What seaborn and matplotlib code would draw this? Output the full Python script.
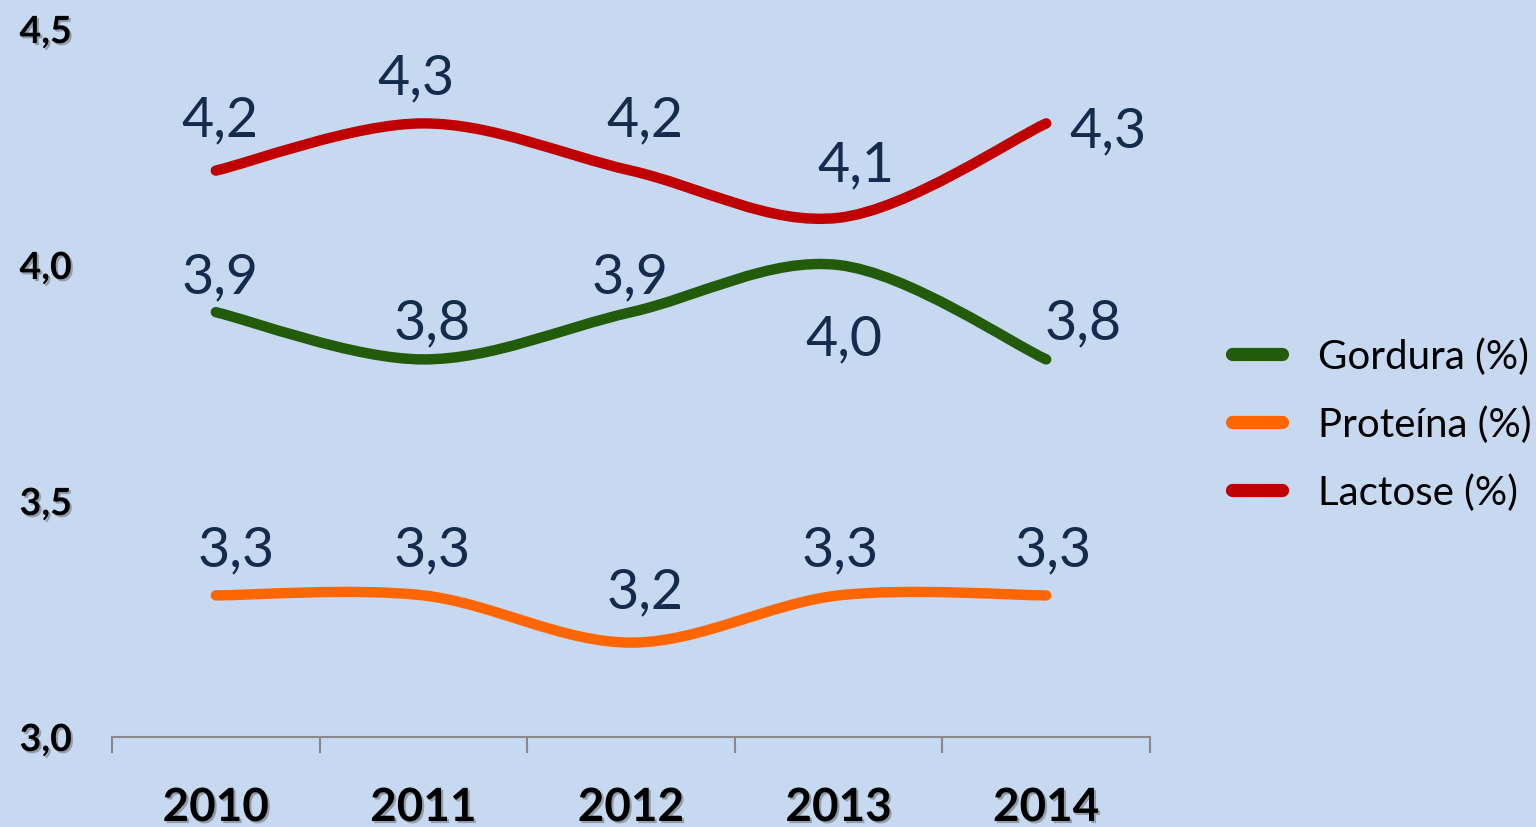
import numpy as np
import pandas as pd
import matplotlib
matplotlib.use("Agg")
import matplotlib.pyplot as plt
import matplotlib.patheffects as pe
from matplotlib.path import Path
from matplotlib.patches import PathPatch
from matplotlib.lines import Line2D
import seaborn as sns

anos = ["2010", "2011", "2012", "2013", "2014"]
series = ["Gordura (%)", "Proteína (%)", "Lactose (%)"]
gordura = [3.9, 3.8, 3.9, 4.0, 3.8]
proteina = [3.3, 3.3, 3.2, 3.3, 3.3]
lactose = [4.2, 4.3, 4.2, 4.1, 4.3]
y_ticks = [3.0, 3.5, 4.0, 4.5]

cores = {"Gordura (%)": "#225B0A", "Proteína (%)": "#FF6600", "Lactose (%)": "#C00000"}

# label offsets (pixels) from each point, per series
offsets = {
    "Gordura (%)": [(4, 20), (9, 21), (-1, 20), (5, -89), (37, 21)],
    "Proteína (%)": [(20, 30), (9, 30), (14, 35), (2, 30), (7, 30)],
    "Lactose (%)": [(4, 35), (-7, 30), (14, 35), (17, 37), (62, -23)],
}

BG = "#C6D9F1"
TXT = "#142B4C"

df = pd.DataFrame({
    "idx": list(range(len(anos))) * 3,
    "valor": gordura + proteina + lactose,
    "serie": [s for s in series for _ in anos],
})


def smooth_path(xs, ys):
    pts = np.column_stack([xs, ys])
    n = len(pts)
    verts = [pts[0]]
    codes = [Path.MOVETO]
    for i in range(n - 1):
        p0 = pts[max(i - 1, 0)]
        p1 = pts[i]
        p2 = pts[i + 1]
        p3 = pts[min(i + 2, n - 1)]
        verts += [p1 + (p2 - p0) / 6, p2 - (p3 - p1) / 6, p2]
        codes += [Path.CURVE4] * 3
    return Path(verts, codes)


sns.set_theme(style="white")
plt.rcParams["font.family"] = ["Lato", "DejaVu Sans"]

fig = plt.figure(figsize=(15.36, 8.28), dpi=100, facecolor=BG)
ax = fig.add_axes([112 / 1536, 90 / 828, 1038 / 1536, 708 / 828])
ax.set_facecolor(BG)

sns.lineplot(data=df, x="idx", y="valor", hue="serie", palette=cores,
             hue_order=series, legend=False, ax=ax)

# replace the straight segments with smoothed curves
for line, nome in zip(list(ax.lines), series):
    xs, ys = line.get_xdata(), line.get_ydata()
    line.remove()
    ax.add_patch(PathPatch(smooth_path(xs, ys), fill=False, edgecolor=cores[nome],
                           lw=7.5, capstyle="round", joinstyle="round"))

vals = {"Gordura (%)": gordura, "Proteína (%)": proteina, "Lactose (%)": lactose}
for nome in series:
    for i, v in enumerate(vals[nome]):
        dx, dy = offsets[nome][i]
        ax.annotate(f"{v:.1f}".replace(".", ","), (i, v), xytext=(dx, dy),
                    textcoords="offset pixels", ha="center", va="baseline",
                    fontsize=40, color=TXT)

ax.set_xlim(-0.5, len(anos) - 0.5)
ax.set_ylim(3.0, 4.5)
ax.set_xlabel("")
ax.set_ylabel("")

shadow = [pe.withSimplePatchShadow(offset=(1.5, -1.5), shadow_rgbFace="#555555", alpha=0.45)]

ax.set_xticks(range(len(anos)))
ax.set_xticklabels(anos, fontsize=33, fontweight="bold", color="black")
ax.set_xticks(np.arange(-0.5, len(anos)), minor=True)
ax.tick_params(axis="x", which="major", length=0, pad=36)
ax.tick_params(axis="x", which="minor", length=11.5, width=1.5, color="#898989",
               direction="out", bottom=True)

ax.set_yticks(y_ticks)
ax.set_yticklabels([f"{t:.1f}".replace(".", ",") for t in y_ticks],
                   fontsize=27, fontweight="bold", color="black")
ax.tick_params(axis="y", length=0, pad=29)
for lab in ax.get_xticklabels() + ax.get_yticklabels():
    lab.set_path_effects(shadow)

for s in ["left", "top", "right"]:
    ax.spines[s].set_visible(False)
ax.spines["bottom"].set_color("#898989")
ax.spines["bottom"].set_linewidth(1.5)

handles = [Line2D([0], [0], color=cores[s], lw=9.5, solid_capstyle="round") for s in series]
leg = fig.legend(handles, series, loc="center left", bbox_to_anchor=(1232 / 1536, 0.4867),
                 frameon=False, fontsize=29, handlelength=1.24, handletextpad=0.9,
                 labelspacing=0.75, borderpad=0, borderaxespad=0)
for t in leg.get_texts():
    t.set_color("black")

fig.savefig("out.png", dpi=100, facecolor=BG)
